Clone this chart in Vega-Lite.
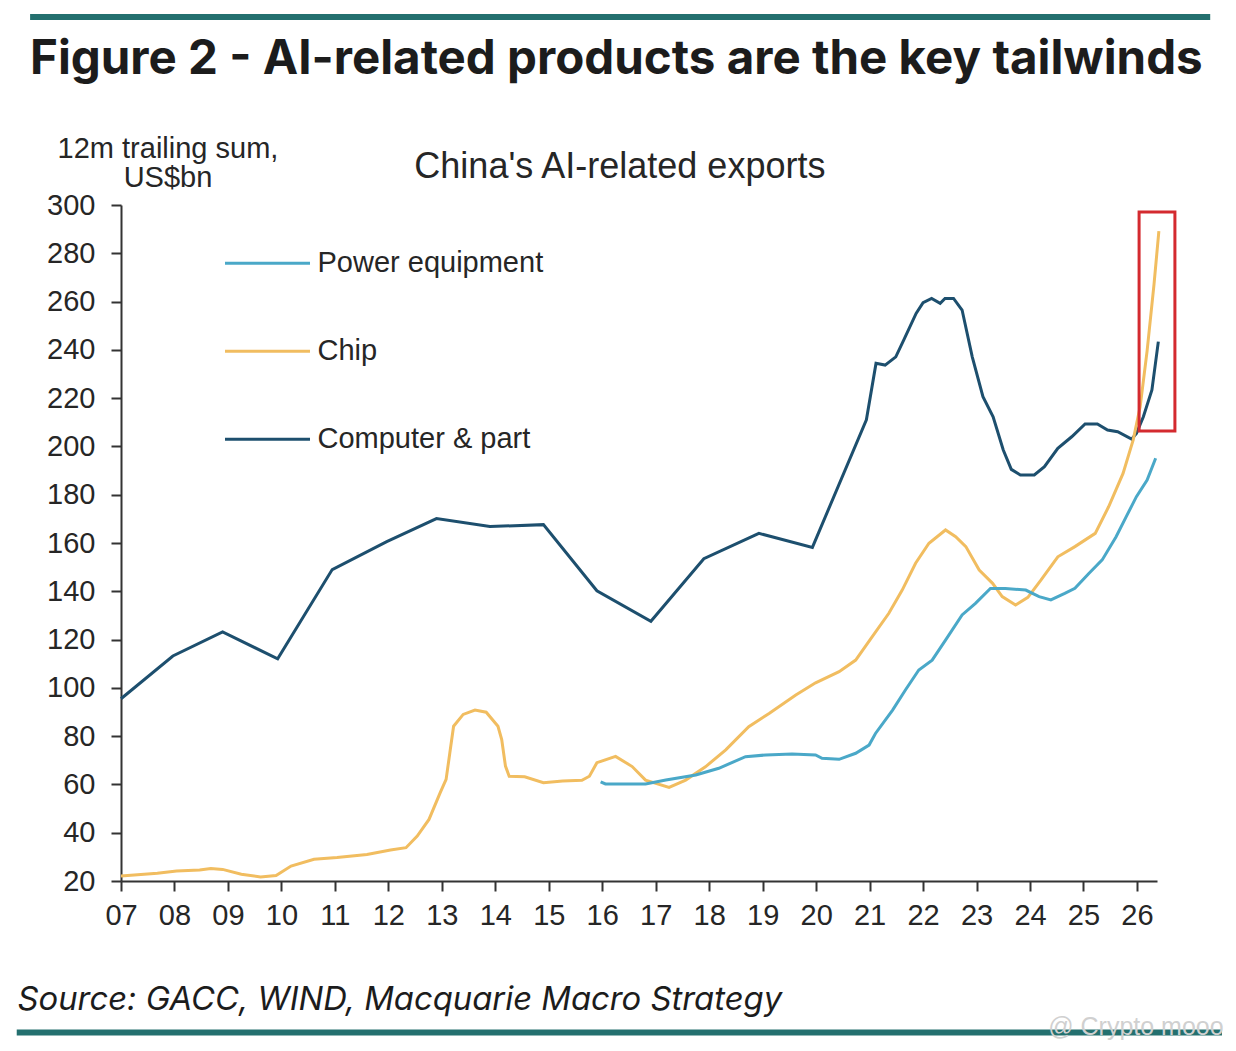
{
  "$schema": "https://vega.github.io/schema/vega-lite/v6.json",
  "width": 1036,
  "height": 676,
  "autosize": {"type": "none"},
  "padding": {"left": 121, "top": 205, "right": 79, "bottom": 170},
  "background": "white",
  "title": {
    "text": "Figure 2 - AI-related products are the key tailwinds",
    "anchor": "start",
    "frame": "group",
    "dx": -91,
    "dy": 74,
    "font": "Inter",
    "fontSize": 47.5,
    "fontWeight": "bold",
    "color": "#1c1c1c"
  },
  "datasets": {
    "exports": [
      {"series": "Computer & part", "year": 2007.0, "value": 95.5},
      {"series": "Computer & part", "year": 2007.97, "value": 113.2},
      {"series": "Computer & part", "year": 2008.9, "value": 123.2},
      {"series": "Computer & part", "year": 2009.93, "value": 112},
      {"series": "Computer & part", "year": 2010.95, "value": 149},
      {"series": "Computer & part", "year": 2011.97, "value": 160.6},
      {"series": "Computer & part", "year": 2012.9, "value": 170.1},
      {"series": "Computer & part", "year": 2013.9, "value": 166.8},
      {"series": "Computer & part", "year": 2014.9, "value": 167.6},
      {"series": "Computer & part", "year": 2015.9, "value": 140.2},
      {"series": "Computer & part", "year": 2016.91, "value": 127.6},
      {"series": "Computer & part", "year": 2017.9, "value": 153.5},
      {"series": "Computer & part", "year": 2018.93, "value": 164},
      {"series": "Computer & part", "year": 2019.93, "value": 158.2},
      {"series": "Computer & part", "year": 2020.94, "value": 211},
      {"series": "Computer & part", "year": 2021.12, "value": 234.4},
      {"series": "Computer & part", "year": 2021.29, "value": 233.7},
      {"series": "Computer & part", "year": 2021.49, "value": 237.1},
      {"series": "Computer & part", "year": 2021.64, "value": 244.1},
      {"series": "Computer & part", "year": 2021.87, "value": 255.1},
      {"series": "Computer & part", "year": 2022.0, "value": 259.5},
      {"series": "Computer & part", "year": 2022.16, "value": 261.3},
      {"series": "Computer & part", "year": 2022.32, "value": 259.3},
      {"series": "Computer & part", "year": 2022.41, "value": 261.3},
      {"series": "Computer & part", "year": 2022.57, "value": 261.3},
      {"series": "Computer & part", "year": 2022.73, "value": 256.5},
      {"series": "Computer & part", "year": 2022.92, "value": 237.1},
      {"series": "Computer & part", "year": 2023.12, "value": 220.6},
      {"series": "Computer & part", "year": 2023.31, "value": 212.3},
      {"series": "Computer & part", "year": 2023.5, "value": 198.5},
      {"series": "Computer & part", "year": 2023.65, "value": 190.5},
      {"series": "Computer & part", "year": 2023.82, "value": 188.2},
      {"series": "Computer & part", "year": 2024.08, "value": 188.2},
      {"series": "Computer & part", "year": 2024.27, "value": 191.6},
      {"series": "Computer & part", "year": 2024.52, "value": 199.2},
      {"series": "Computer & part", "year": 2024.78, "value": 204},
      {"series": "Computer & part", "year": 2025.03, "value": 209.3},
      {"series": "Computer & part", "year": 2025.26, "value": 209.3},
      {"series": "Computer & part", "year": 2025.45, "value": 206.8},
      {"series": "Computer & part", "year": 2025.64, "value": 206.1},
      {"series": "Computer & part", "year": 2025.9, "value": 203},
      {"series": "Computer & part", "year": 2025.99, "value": 205.4},
      {"series": "Computer & part", "year": 2026.12, "value": 212.3},
      {"series": "Computer & part", "year": 2026.28, "value": 223.4},
      {"series": "Computer & part", "year": 2026.4, "value": 243.4},
      {"series": "Chip", "year": 2007.0, "value": 22.1},
      {"series": "Chip", "year": 2007.68, "value": 23.2},
      {"series": "Chip", "year": 2008.04, "value": 24.1},
      {"series": "Chip", "year": 2008.47, "value": 24.6},
      {"series": "Chip", "year": 2008.68, "value": 25.2},
      {"series": "Chip", "year": 2008.9, "value": 24.8},
      {"series": "Chip", "year": 2009.25, "value": 22.8},
      {"series": "Chip", "year": 2009.61, "value": 21.7},
      {"series": "Chip", "year": 2009.9, "value": 22.3},
      {"series": "Chip", "year": 2010.18, "value": 26.2},
      {"series": "Chip", "year": 2010.61, "value": 29},
      {"series": "Chip", "year": 2011.04, "value": 29.7},
      {"series": "Chip", "year": 2011.6, "value": 31},
      {"series": "Chip", "year": 2012.04, "value": 32.8},
      {"series": "Chip", "year": 2012.33, "value": 33.8},
      {"series": "Chip", "year": 2012.54, "value": 38.6},
      {"series": "Chip", "year": 2012.76, "value": 45.5},
      {"series": "Chip", "year": 2012.97, "value": 56.6},
      {"series": "Chip", "year": 2013.08, "value": 62.1},
      {"series": "Chip", "year": 2013.15, "value": 73.1},
      {"series": "Chip", "year": 2013.22, "value": 84.1},
      {"series": "Chip", "year": 2013.4, "value": 89},
      {"series": "Chip", "year": 2013.62, "value": 90.8},
      {"series": "Chip", "year": 2013.83, "value": 89.9},
      {"series": "Chip", "year": 2014.05, "value": 84.1},
      {"series": "Chip", "year": 2014.12, "value": 78.6},
      {"series": "Chip", "year": 2014.19, "value": 67.6},
      {"series": "Chip", "year": 2014.26, "value": 63.4},
      {"series": "Chip", "year": 2014.55, "value": 63.2},
      {"series": "Chip", "year": 2014.9, "value": 60.7},
      {"series": "Chip", "year": 2015.26, "value": 61.4},
      {"series": "Chip", "year": 2015.62, "value": 61.7},
      {"series": "Chip", "year": 2015.76, "value": 63.4},
      {"series": "Chip", "year": 2015.9, "value": 69},
      {"series": "Chip", "year": 2016.25, "value": 71.6},
      {"series": "Chip", "year": 2016.56, "value": 67.4},
      {"series": "Chip", "year": 2016.81, "value": 61.8},
      {"series": "Chip", "year": 2017.25, "value": 58.8},
      {"series": "Chip", "year": 2017.56, "value": 61.8},
      {"series": "Chip", "year": 2017.93, "value": 67.3},
      {"series": "Chip", "year": 2018.31, "value": 74.3},
      {"series": "Chip", "year": 2018.74, "value": 83.9},
      {"series": "Chip", "year": 2019.12, "value": 89.4},
      {"series": "Chip", "year": 2019.62, "value": 97},
      {"series": "Chip", "year": 2019.99, "value": 102.1},
      {"series": "Chip", "year": 2020.43, "value": 106.7},
      {"series": "Chip", "year": 2020.74, "value": 111.5},
      {"series": "Chip", "year": 2021.05, "value": 121.2},
      {"series": "Chip", "year": 2021.36, "value": 130.9},
      {"series": "Chip", "year": 2021.61, "value": 140.5},
      {"series": "Chip", "year": 2021.86, "value": 151.6},
      {"series": "Chip", "year": 2022.11, "value": 159.9},
      {"series": "Chip", "year": 2022.42, "value": 165.4},
      {"series": "Chip", "year": 2022.61, "value": 162.6},
      {"series": "Chip", "year": 2022.8, "value": 158.5},
      {"series": "Chip", "year": 2023.05, "value": 148.8},
      {"series": "Chip", "year": 2023.3, "value": 143.3},
      {"series": "Chip", "year": 2023.48, "value": 137.8},
      {"series": "Chip", "year": 2023.73, "value": 134.3},
      {"series": "Chip", "year": 2023.96, "value": 137.5},
      {"series": "Chip", "year": 2024.2, "value": 144.5},
      {"series": "Chip", "year": 2024.52, "value": 154.3},
      {"series": "Chip", "year": 2024.84, "value": 158.5},
      {"series": "Chip", "year": 2025.22, "value": 164},
      {"series": "Chip", "year": 2025.47, "value": 175},
      {"series": "Chip", "year": 2025.74, "value": 188.8},
      {"series": "Chip", "year": 2025.93, "value": 202.7},
      {"series": "Chip", "year": 2026.06, "value": 216.4},
      {"series": "Chip", "year": 2026.19, "value": 239.6},
      {"series": "Chip", "year": 2026.32, "value": 267.3},
      {"series": "Chip", "year": 2026.41, "value": 289.2},
      {"series": "Power equipment", "year": 2015.97, "value": 61.1},
      {"series": "Power equipment", "year": 2016.06, "value": 60.2},
      {"series": "Power equipment", "year": 2016.81, "value": 60.2},
      {"series": "Power equipment", "year": 2017.19, "value": 61.8},
      {"series": "Power equipment", "year": 2017.75, "value": 63.9},
      {"series": "Power equipment", "year": 2018.18, "value": 66.7},
      {"series": "Power equipment", "year": 2018.68, "value": 71.5},
      {"series": "Power equipment", "year": 2019.06, "value": 72.2},
      {"series": "Power equipment", "year": 2019.55, "value": 72.6},
      {"series": "Power equipment", "year": 2019.99, "value": 72.2},
      {"series": "Power equipment", "year": 2020.11, "value": 70.8},
      {"series": "Power equipment", "year": 2020.43, "value": 70.4},
      {"series": "Power equipment", "year": 2020.74, "value": 72.9},
      {"series": "Power equipment", "year": 2020.99, "value": 76.3},
      {"series": "Power equipment", "year": 2021.11, "value": 81.1},
      {"series": "Power equipment", "year": 2021.43, "value": 90.8},
      {"series": "Power equipment", "year": 2021.67, "value": 99.1},
      {"series": "Power equipment", "year": 2021.92, "value": 107.4},
      {"series": "Power equipment", "year": 2022.17, "value": 111.5},
      {"series": "Power equipment", "year": 2022.42, "value": 119.8},
      {"series": "Power equipment", "year": 2022.73, "value": 130.2},
      {"series": "Power equipment", "year": 2022.98, "value": 135},
      {"series": "Power equipment", "year": 2023.26, "value": 141.2},
      {"series": "Power equipment", "year": 2023.54, "value": 141.2},
      {"series": "Power equipment", "year": 2023.92, "value": 140.5},
      {"series": "Power equipment", "year": 2024.17, "value": 137.8},
      {"series": "Power equipment", "year": 2024.39, "value": 136.4},
      {"series": "Power equipment", "year": 2024.65, "value": 139.1},
      {"series": "Power equipment", "year": 2024.84, "value": 141.2},
      {"series": "Power equipment", "year": 2025.1, "value": 147.4},
      {"series": "Power equipment", "year": 2025.35, "value": 153},
      {"series": "Power equipment", "year": 2025.61, "value": 162.6},
      {"series": "Power equipment", "year": 2025.8, "value": 170.9},
      {"series": "Power equipment", "year": 2025.99, "value": 179.2},
      {"series": "Power equipment", "year": 2026.19, "value": 186.1},
      {"series": "Power equipment", "year": 2026.35, "value": 195.1}
    ],
    "highlight": [
      {"start": 2026.04, "end": 2026.71, "low": 206.4, "high": 297.1}
    ],
    "single": [{}]
  },
  "layer": [
    {
      "data": {"name": "single"},
      "mark": {"type": "rule", "color": "#24706f", "strokeWidth": 6},
      "encoding": {
        "x": {"datum": 2005.3, "type": "quantitative"},
        "x2": {"datum": 2027.37},
        "y": {"datum": 377.9, "type": "quantitative"}
      }
    },
    {
      "data": {"name": "single"},
      "mark": {"type": "rule", "color": "#24706f", "strokeWidth": 6},
      "encoding": {
        "x": {"datum": 2005.05, "type": "quantitative"},
        "x2": {"datum": 2027.59},
        "y": {"datum": -42.8, "type": "quantitative"}
      }
    },
    {
      "data": {"name": "exports"},
      "mark": {"type": "line", "strokeWidth": 3},
      "encoding": {
        "x": {
          "field": "year",
          "type": "quantitative",
          "scale": {"domain": [2007, 2026.375], "nice": false, "zero": false},
          "axis": {
            "values": [2007, 2008, 2009, 2010, 2011, 2012, 2013, 2014, 2015, 2016, 2017, 2018, 2019, 2020, 2021, 2022, 2023, 2024, 2025, 2026],
            "format": "d",
            "labelExpr": "substring(datum.label, 2, 4)",
            "grid": false,
            "tickSize": 10,
            "tickWidth": 2,
            "tickColor": "#333333",
            "domainColor": "#333333",
            "domainWidth": 2,
            "labelPadding": 10,
            "labelFont": "Liberation Sans",
            "labelFontSize": 29,
            "labelColor": "#262626",
            "labelFlush": false,
            "labelOverlap": false,
            "title": "Source: GACC, WIND, Macquarie Macro Strategy",
            "titleFont": "Inter",
            "titleFontSize": 32.8,
            "titleFontStyle": "italic",
            "titleFontWeight": "normal",
            "titleColor": "#1c1c1c",
            "titleAlign": "left",
            "titleAnchor": "start",
            "titleBaseline": "alphabetic",
            "titleX": -104,
            "titleY": 128
          }
        },
        "y": {
          "field": "value",
          "type": "quantitative",
          "scale": {"domain": [20, 300], "nice": false, "zero": false},
          "axis": {
            "values": [20, 40, 60, 80, 100, 120, 140, 160, 180, 200, 220, 240, 260, 280, 300],
            "grid": false,
            "tickSize": 10,
            "tickWidth": 2,
            "tickColor": "#333333",
            "domainColor": "#333333",
            "domainWidth": 2,
            "labelPadding": 16,
            "labelFont": "Liberation Sans",
            "labelFontSize": 29,
            "labelColor": "#262626",
            "labelFlush": false,
            "labelOverlap": false,
            "title": ["12m trailing sum,", "US$bn"],
            "titleFont": "Liberation Sans",
            "titleFontSize": 29,
            "titleFontWeight": "normal",
            "titleColor": "#262626",
            "titleAngle": 0,
            "titleAlign": "center",
            "titleBaseline": "alphabetic",
            "titleLineHeight": 29,
            "titleX": 46.5,
            "titleY": -48
          }
        },
        "color": {
          "field": "series",
          "type": "nominal",
          "scale": {
            "domain": ["Power equipment", "Chip", "Computer & part"],
            "range": ["#4aa8c8", "#f1bd60", "#1d4f6e"]
          },
          "legend": {
            "orient": "none",
            "legendX": 102.5,
            "legendY": 14.3,
            "title": null,
            "padding": 0,
            "symbolType": "stroke",
            "symbolSize": 7225,
            "symbolStrokeWidth": 3,
            "rowPadding": 29,
            "labelOffset": 6,
            "labelFont": "Liberation Sans",
            "labelFontSize": 29,
            "labelColor": "#262626",
            "labelLimit": 400
          }
        }
      }
    },
    {
      "data": {"name": "highlight"},
      "mark": {"type": "rect", "fill": null, "fillOpacity": 0, "stroke": "#d42a2f", "strokeWidth": 3},
      "encoding": {
        "x": {"field": "start", "type": "quantitative"},
        "x2": {"field": "end"},
        "y": {"field": "low", "type": "quantitative"},
        "y2": {"field": "high"}
      }
    },
    {
      "data": {"name": "single"},
      "mark": {"type": "text", "font": "Liberation Sans", "fontSize": 36, "align": "center", "baseline": "alphabetic", "color": "#262626"},
      "encoding": {
        "x": {"datum": 2016.33, "type": "quantitative"},
        "y": {"datum": 311.05, "type": "quantitative"},
        "text": {"value": "China's AI-related exports"}
      }
    },
    {
      "data": {"name": "single"},
      "mark": {"type": "text", "font": "Liberation Sans", "fontSize": 25, "align": "left", "baseline": "alphabetic", "color": "#d0d0d0"},
      "encoding": {
        "x": {"datum": 2024.34, "type": "quantitative"},
        "y": {"datum": -43.8, "type": "quantitative"},
        "text": {"value": "@ Crypto mooo"}
      }
    }
  ],
  "config": {
    "view": {"stroke": null}
  }
}
